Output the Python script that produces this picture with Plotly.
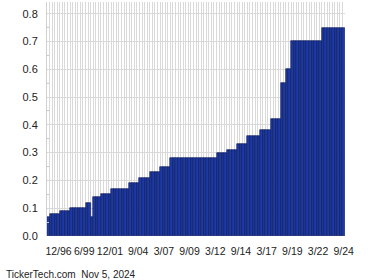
import plotly.graph_objects as go

# Quarter labels (M/YY), one per bar, 12/95 .. 9/24
quarters = [
    "12/95",
    "3/96", "6/96", "9/96", "12/96",
    "3/97", "6/97", "9/97", "12/97",
    "3/98", "6/98", "9/98", "12/98",
    "3/99", "6/99", "9/99", "12/99",
    "3/00", "6/00", "9/00", "12/00",
    "3/01", "6/01", "9/01", "12/01",
    "3/02", "6/02", "9/02", "12/02",
    "3/03", "6/03", "9/03", "12/03",
    "3/04", "6/04", "9/04", "12/04",
    "3/05", "6/05", "9/05", "12/05",
    "3/06", "6/06", "9/06", "12/06",
    "3/07", "6/07", "9/07", "12/07",
    "3/08", "6/08", "9/08", "12/08",
    "3/09", "6/09", "9/09", "12/09",
    "3/10", "6/10", "9/10", "12/10",
    "3/11", "6/11", "9/11", "12/11",
    "3/12", "6/12", "9/12", "12/12",
    "3/13", "6/13", "9/13", "12/13",
    "3/14", "6/14", "9/14", "12/14",
    "3/15", "6/15", "9/15", "12/15",
    "3/16", "6/16", "9/16", "12/16",
    "3/17", "6/17", "9/17", "12/17",
    "3/18", "6/18", "9/18", "12/18",
    "3/19", "6/19", "9/19", "12/19",
    "3/20", "6/20", "9/20", "12/20",
    "3/21", "6/21", "9/21", "12/21",
    "3/22", "6/22", "9/22", "12/22",
    "3/23", "6/23", "9/23", "12/23",
    "3/24", "6/24", "9/24",
]

dividends = [
    0.07,
    0.08, 0.08, 0.08, 0.08,
    0.09, 0.09, 0.09, 0.09,
    0.10, 0.10, 0.10, 0.10,
    0.10, 0.10, 0.12, 0.12,
    0.07, 0.14, 0.14, 0.14,
    0.15, 0.15, 0.15, 0.15,
    0.17, 0.17, 0.17, 0.17,
    0.17, 0.17, 0.17, 0.19,
    0.19, 0.19, 0.19, 0.21,
    0.21, 0.21, 0.21, 0.23,
    0.23, 0.23, 0.23, 0.25,
    0.25, 0.25, 0.25, 0.28,
    0.28, 0.28, 0.28, 0.28,
    0.28, 0.28, 0.28, 0.28,
    0.28, 0.28, 0.28, 0.28,
    0.28, 0.28, 0.28, 0.28,
    0.28, 0.30, 0.30, 0.30,
    0.30, 0.31, 0.31, 0.31,
    0.31, 0.33, 0.33, 0.33,
    0.33, 0.36, 0.36, 0.36,
    0.36, 0.36, 0.38, 0.38,
    0.38, 0.38, 0.42, 0.42,
    0.42, 0.42, 0.55, 0.55,
    0.60, 0.60, 0.70, 0.70,
    0.70, 0.70, 0.70, 0.70,
    0.70, 0.70, 0.70, 0.70,
    0.70, 0.70, 0.75, 0.75,
    0.75, 0.75, 0.75, 0.75,
    0.75, 0.75, 0.75,
]

tick_labels = ["12/96", "6/99", "12/01", "9/04", "3/07", "9/09",
               "3/12", "9/14", "3/17", "9/19", "3/22", "9/24"]
y_ticks = [0.0, 0.1, 0.2, 0.3, 0.4, 0.5, 0.6, 0.7, 0.8]

xs = list(range(len(quarters)))
tick_pos = [quarters.index(t) for t in tick_labels]

fig = go.Figure(go.Bar(
    x=xs, y=dividends, width=1,
    marker=dict(color="#1c3aa6", line=dict(color="#0c1650", width=0.6)),
    hoverinfo="skip",
))

font = "Liberation Sans, Arial, sans-serif"
fig.update_layout(
    width=380, height=280,
    margin=dict(l=47, r=35, t=2, b=44),
    paper_bgcolor="white", plot_bgcolor="white",
    showlegend=False, bargap=0,
    font=dict(family=font, size=11, color="#222222"),
    xaxis=dict(
        range=[-0.5, len(quarters) - 0.5],
        tickmode="array", tickvals=tick_pos, ticktext=tick_labels,
        tickangle=0, showgrid=False, zeroline=False, showline=False,
        ticks="", ticklabelstandoff=7,
        tickfont=dict(size=10.5, color="#222222"),
        minor=dict(tick0=-0.5, dtick=1, showgrid=True, gridcolor="#d9d9d9", gridwidth=1),
    ),
    yaxis=dict(
        range=[0, 0.842],
        tickmode="array", tickvals=y_ticks, ticktext=[f"{v:.1f}" for v in y_ticks],
        showgrid=True, gridcolor="#d9d9d9", gridwidth=1,
        zeroline=False, showline=True, linecolor="#d0d0d0", linewidth=1,
        ticks="", ticklabelstandoff=6,
        tickfont=dict(size=11, color="#222222"),
        minor=dict(tickvals=[0.05, 0.15, 0.25, 0.35, 0.45, 0.55, 0.65, 0.75],
                   ticks="inside", ticklen=2, tickcolor="#c8c8c8", showgrid=False),
    ),
)

fig.add_annotation(
    text="TickerTech.com&nbsp;&nbsp;Nov 5, 2024",
    xref="paper", yref="paper", x=-43 / 298, y=-38 / 234,
    xanchor="left", yanchor="middle", showarrow=False,
    font=dict(family=font, size=10, color="#222222"),
)

fig.write_html("out.html")
